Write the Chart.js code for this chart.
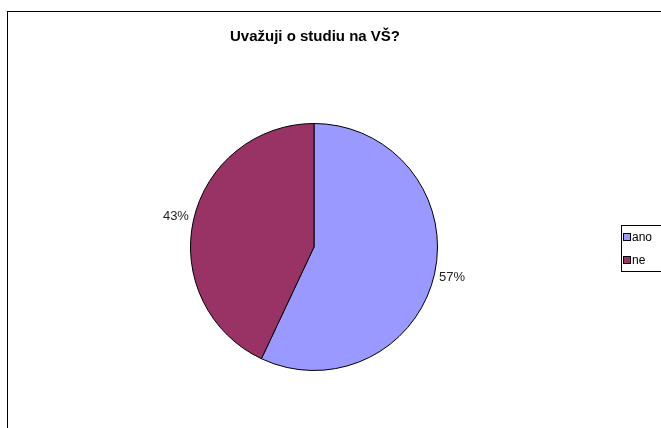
<!DOCTYPE html>
<html>
<head>
<meta charset="utf-8">
<script src="https://cdn.jsdelivr.net/npm/chart.js@4"></script>
<style>
    html, body { margin: 0; padding: 0; background: #fff; }
    #wrap { width: 661px; height: 428px; position: relative; }
</style>
</head>
<body>
<div id="wrap"><canvas id="chart"></canvas></div>
<script>
// Data
const chartTitle = 'Uvažuji o studiu na VŠ?';
const categories = ['ano', 'ne'];
const shares = [57, 43];
const sliceColors = ['#9999FF', '#993366'];

const fontFamily = '"Liberation Sans", Arial, sans-serif';

// Frame, title, legend and percent labels drawn like the old office chart
const officeDecor = {
    id: 'officeDecor',
    afterDraw(chart) {
        const ctx = chart.ctx;
        ctx.save();

        // outer frame (cut off at right and bottom in the reference)
        ctx.strokeStyle = '#000';
        ctx.lineWidth = 1;
        ctx.strokeRect(7.5, 11.5, 720, 500);

        // title
        ctx.fillStyle = '#000';
        ctx.font = 'bold 15px ' + fontFamily;
        ctx.textAlign = 'center';
        ctx.textBaseline = 'middle';
        ctx.fillText(chartTitle, 315, 37);

        // percent labels outside each slice
        const meta = chart.getDatasetMeta(0);
        ctx.font = '13px ' + fontFamily;
        ctx.fillStyle = '#222';
        meta.data.forEach((arc, i) => {
            const mid = (arc.startAngle + arc.endAngle) / 2;
            const r = arc.outerRadius + 18;
            const x = arc.x + Math.cos(mid) * r;
            const y = arc.y + Math.sin(mid) * r;
            ctx.fillText(shares[i] + '%', x, y);
        });

        // legend box
        ctx.strokeStyle = '#000';
        ctx.strokeRect(621.5, 225.5, 60, 46);
        ctx.font = '12px ' + fontFamily;
        ctx.textAlign = 'left';
        categories.forEach((name, i) => {
            const y = 237 + i * 23;
            ctx.fillStyle = sliceColors[i];
            ctx.fillRect(624, y - 3, 6, 6);
            ctx.strokeStyle = '#000';
            ctx.strokeRect(623.5, y - 3.5, 7, 7);
            ctx.fillStyle = '#000';
            ctx.fillText(name, 632, y + 1);
        });

        ctx.restore();
    }
};

new Chart(document.getElementById('chart'), {
    type: 'pie',
    data: {
        labels: categories,
        datasets: [{
            data: shares,
            backgroundColor: sliceColors,
            borderColor: '#000',
            borderWidth: 1
        }]
    },
    options: {
        responsive: true,
        maintainAspectRatio: false,
        animation: false,
        layout: {
            padding: { left: 190, right: 223, top: 123, bottom: 57 }
        },
        plugins: {
            legend: { display: false },
            title: { display: false },
            tooltip: { enabled: false }
        }
    },
    plugins: [officeDecor]
});
</script>
</body>
</html>
